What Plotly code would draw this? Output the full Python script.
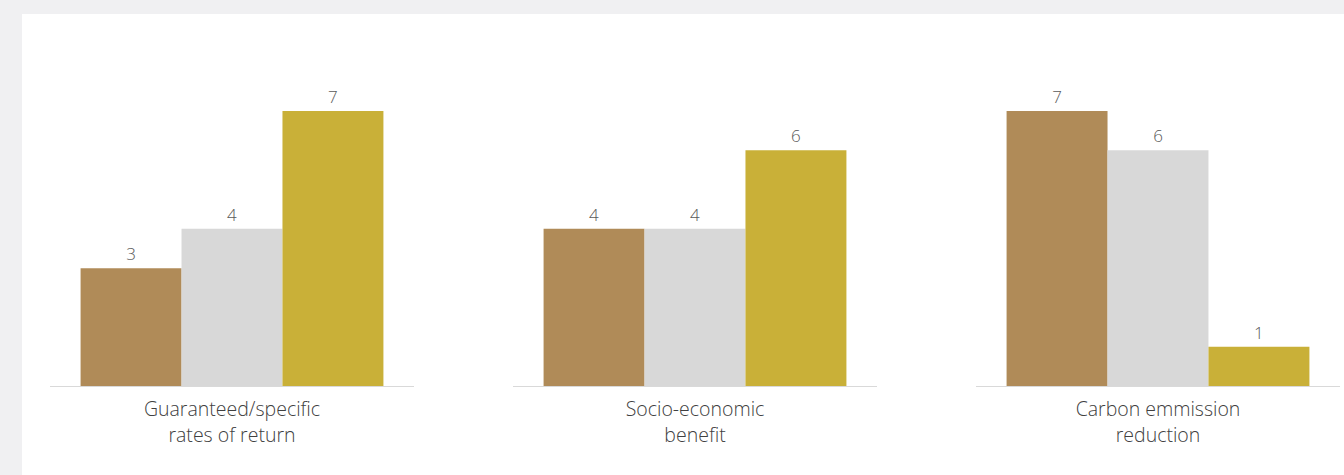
import plotly.graph_objects as go

categories = ["Guaranteed/specific<br>rates of return", "Socio-economic<br>benefit", "Carbon emmission<br>reduction"]
series_names = ["Series 1", "Series 2", "Series 3"]
series_1 = [3, 4, 7]
series_2 = [4, 4, 6]
series_3 = [7, 6, 1]
colors = ["#b08b58", "#d8d8d8", "#c9b038"]

W, H = 1344, 475
domains = [(50, 414), (513, 877), (976, 1340)]
base_px = 386
top_px = 386 - 8 * (275 / 7)

fig = go.Figure()
series = [series_1, series_2, series_3]
for i, cat in enumerate(categories):
    ax = "" if i == 0 else str(i + 1)
    for j, vals in enumerate(series):
        fig.add_trace(go.Bar(
            x=[cat], y=[vals[i]], name=series_names[j],
            marker=dict(color=colors[j], line=dict(width=0)),
            xaxis="x" + ax, yaxis="y" + ax,
            text=[vals[i]], texttemplate="%{y}", textposition="outside",
            textfont=dict(family="Open Sans", size=17, color="#595959", weight=300),
            cliponaxis=False, showlegend=False, offsetgroup=str(j),
            hoverinfo="skip",
        ))
    d0, d1 = domains[i]
    fig.layout["xaxis" + ax] = dict(
        domain=[d0 / W, d1 / W], anchor="y" + ax, showline=True,
        linecolor="#d9d9d9", linewidth=1, showgrid=False, zeroline=False,
        ticks="", ticklabelstandoff=6,
        tickfont=dict(family="Open Sans", size=19.5, color="#404040", weight=300),
        fixedrange=True,
    )
    fig.layout["yaxis" + ax] = dict(
        domain=[(H - base_px) / H, (H - top_px) / H], anchor="x" + ax,
        range=[0, 8], visible=False, showgrid=False, zeroline=False,
        fixedrange=True,
    )

fig.add_shape(type="rect", xref="paper", yref="paper",
              x0=22 / W, x1=1, y0=0, y1=(H - 14) / H,
              fillcolor="white", line=dict(width=0), layer="below")

fig.update_layout(
    width=W, height=H, margin=dict(l=0, r=0, t=0, b=0),
    paper_bgcolor="#f0f0f2", plot_bgcolor="rgba(0,0,0,0)",
    barmode="group", bargap=0.168, bargroupgap=0,
    showlegend=False,
)

fig.write_html("out.html", config={"displayModeBar": False},
               post_script="document.body.style.margin='0';document.body.style.overflow='hidden';")
